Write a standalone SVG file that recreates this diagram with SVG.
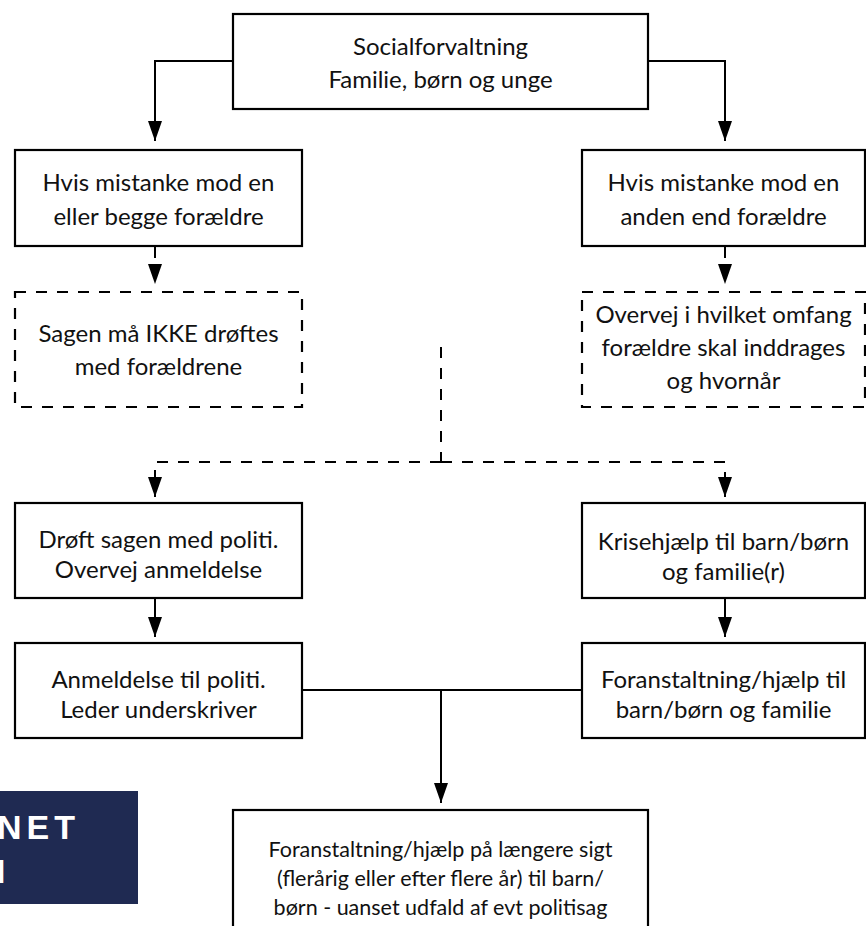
<svg xmlns="http://www.w3.org/2000/svg" width="866" height="926" viewBox="0 0 866 926">
<defs>
<style>
.box{fill:#fff;stroke:#000;stroke-width:2.2}
.dbox{fill:#fff;stroke:#000;stroke-width:2.2;stroke-dasharray:11 10}
.ln{fill:none;stroke:#000;stroke-width:2}
.dl{fill:none;stroke:#000;stroke-width:2;stroke-dasharray:11 10}
text{font-family:Lato,"Liberation Sans",sans-serif;font-size:24px;fill:#111;text-anchor:middle}
.sm{font-size:21.5px}
.logo{font-family:"Liberation Sans",Arial,sans-serif;font-weight:bold;font-size:34px;fill:#fff;text-anchor:start;letter-spacing:5px}
</style>
<marker id="ah" markerUnits="userSpaceOnUse" markerWidth="20" markerHeight="14" refX="20" refY="7" orient="auto">
<path d="M0,0 L20,7 L0,14 Z" fill="#000"/>
</marker>
</defs>
<rect width="866" height="926" fill="#fff"/>
<g id="connectors">
<path class="ln" d="M233,61 H155 V141" marker-end="url(#ah)"/>
<path class="ln" d="M648,61 H725 V141" marker-end="url(#ah)"/>
<path class="dl" d="M155,247 V284" marker-end="url(#ah)"/>
<path class="dl" d="M725,247 V284" marker-end="url(#ah)"/>
<path class="dl" d="M441,347 V462"/>
<path class="dl" d="M441,462 H155 V497" marker-end="url(#ah)"/>
<path class="dl" d="M441,462 H725 V497" marker-end="url(#ah)"/>
<path class="ln" d="M155,598 V637" marker-end="url(#ah)"/>
<path class="ln" d="M725,598 V637" marker-end="url(#ah)"/>
<path class="ln" d="M302,690 H582"/>
<path class="ln" d="M441,690 V803" marker-end="url(#ah)"/>
</g>
<g id="n-top">
<rect class="box" x="233" y="14" width="415" height="95"/>
<text x="440.5" y="55">Socialforvaltning</text>
<text x="440.5" y="88">Familie, børn og unge</text>
</g>
<g id="n-left1">
<rect class="box" x="15" y="150" width="287" height="96"/>
<text x="158.5" y="191">Hvis mistanke mod en</text>
<text x="158.5" y="225">eller begge forældre</text>
</g>
<g id="n-right1">
<rect class="box" x="582" y="150" width="283" height="96"/>
<text x="723.5" y="191">Hvis mistanke mod en</text>
<text x="723.5" y="225">anden end forældre</text>
</g>
<g id="n-left2">
<rect class="dbox" x="15" y="292" width="287" height="115"/>
<text x="158.5" y="342">Sagen må IKKE drøftes</text>
<text x="158.5" y="375">med forældrene</text>
</g>
<g id="n-right2">
<rect class="dbox" x="582" y="292" width="283" height="115"/>
<text x="723.5" y="323">Overvej i hvilket omfang</text>
<text x="723.5" y="356">forældre skal inddrages</text>
<text x="723.5" y="389">og hvornår</text>
</g>
<g id="n-left3">
<rect class="box" x="15" y="503" width="287" height="95"/>
<text x="158.5" y="548">Drøft sagen med politi.</text>
<text x="158.5" y="578">Overvej anmeldelse</text>
</g>
<g id="n-right3">
<rect class="box" x="582" y="503" width="283" height="95"/>
<text x="723.5" y="550">Krisehjælp til barn/børn</text>
<text x="723.5" y="580">og familie(r)</text>
</g>
<g id="n-left4">
<rect class="box" x="15" y="643" width="287" height="95"/>
<text x="158.5" y="688">Anmeldelse til politi.</text>
<text x="158.5" y="718">Leder underskriver</text>
</g>
<g id="n-right4">
<rect class="box" x="582" y="643" width="283" height="95"/>
<text x="723.5" y="688">Foranstaltning/hjælp til</text>
<text x="723.5" y="718">barn/børn og familie</text>
</g>
<g id="n-bottom">
<rect class="box" x="233" y="810" width="415" height="130"/>
<text class="sm" x="440.5" y="857">Foranstaltning/hjælp på længere sigt</text>
<text class="sm" x="440.5" y="886">(flerårig eller efter flere år) til barn/</text>
<text class="sm" x="440.5" y="915">børn - uanset udfald af evt politisag</text>
</g>
<g id="logo">
<rect x="0" y="791" width="138" height="113" fill="#1f2a52"/>
<text class="logo" x="-3" y="839">NET</text>
<text class="logo" x="-4" y="883">I</text>
</g>
</svg>
